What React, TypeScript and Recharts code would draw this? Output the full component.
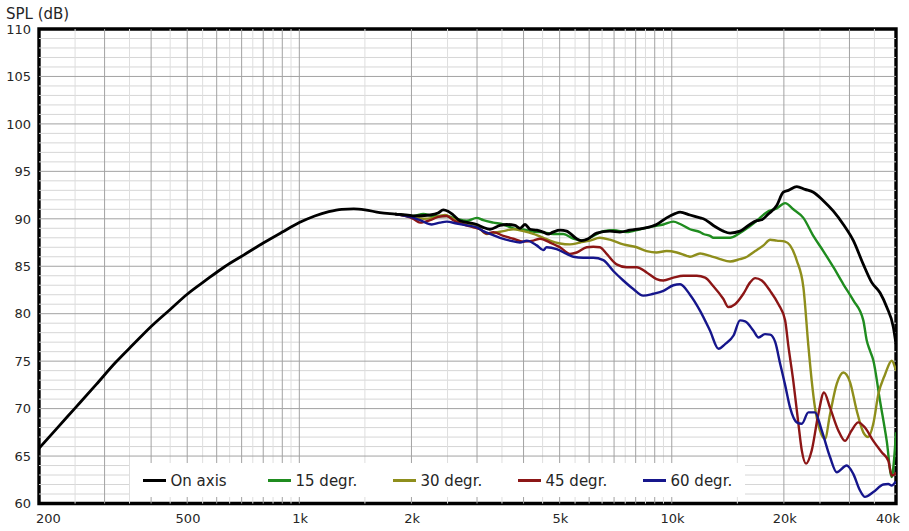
import React from 'react';
import { LineChart, Line, XAxis, YAxis, ReferenceLine, ReferenceArea, Legend, Label } from 'recharts';

type Pt = [number, number];

// Frequency (Hz), SPL (dB)
const onAxis: Pt[] = [
  [200, 65.8], [225, 68.05], [250, 70.05], [285, 72.55], [320, 74.8], [360, 76.85], [400, 78.65],
  [450, 80.45], [500, 82.05], [560, 83.5], [630, 84.95], [710, 86.2], [800, 87.45], [900, 88.6],
  [1000, 89.6], [1100, 90.3], [1200, 90.75], [1300, 91.0], [1400, 91.05], [1500, 90.95], [1645, 90.65],
  [1810, 90.5], [1982, 90.35], [2024, 90.3], [2244, 90.4], [2358, 90.6], [2435, 90.95], [2507, 90.8],
  [2591, 90.4], [2700, 89.8], [2837, 89.6], [2995, 89.4], [3114, 89.1], [3250, 88.9], [3458, 89.3],
  [3604, 89.4], [3793, 89.3], [3913, 89.0], [4037, 89.4], [4163, 88.9], [4339, 88.8], [4518, 88.6],
  [4660, 88.4], [4798, 88.6], [5010, 88.8], [5222, 88.7], [5555, 87.9], [5728, 87.7], [5969, 87.9],
  [6285, 88.5], [6822, 88.7], [7256, 88.6], [7719, 88.8], [8379, 89.0], [9103, 89.4], [9683, 90.1],
  [10205, 90.55], [10530, 90.7], [11192, 90.4], [11915, 90.1], [12160, 90.0], [12934, 89.3],
  [13760, 88.7], [14340, 88.5], [15250, 88.7], [16055, 89.3], [16910, 89.8], [17440, 89.9],
  [18165, 90.5], [19135, 91.4], [19930, 92.8], [20560, 93.0], [21660, 93.4], [22790, 93.1],
  [23995, 92.8], [25520, 91.9], [27160, 90.8], [28890, 89.4], [30730, 87.7], [32680, 85.2],
  [34420, 83.3], [36240, 82.2], [37770, 80.7], [39340, 78.6], [40000, 76.8],
];

const deg15: Pt[] = [
  [1810, 90.5], [2024, 90.3], [2152, 90.5], [2289, 90.3], [2487, 90.3], [2645, 90.0], [2815, 89.8],
  [2995, 90.1], [3119, 89.85], [3317, 89.6], [3529, 89.4], [3755, 89.0], [4078, 88.8], [4339, 88.6],
  [4428, 88.6], [4808, 88.4], [5113, 88.4], [5440, 87.9], [5787, 87.7], [6155, 88.2], [6548, 88.7],
  [6967, 88.8], [7569, 88.6], [8218, 88.9], [8924, 89.2], [9497, 89.4], [10100, 89.7], [10530, 89.45],
  [11192, 88.9], [11915, 88.6], [12160, 88.4], [12670, 88.2], [12934, 88.0], [13760, 88.0],
  [14340, 88.0], [15100, 88.4], [16055, 89.1], [16910, 89.8], [17995, 90.7], [19135, 91.1],
  [20150, 91.65], [21200, 91.0], [22560, 90.1], [23995, 88.2], [25520, 86.6], [27160, 84.9],
  [28890, 83.1], [30730, 81.4], [32680, 79.3], [33370, 77.2], [34060, 76.1], [34760, 75.1],
  [36240, 70.8], [37770, 66.6], [38960, 62.8], [39500, 64.5], [40000, 67.5],
];

const deg30: Pt[] = [
  [1810, 90.5], [2024, 90.2], [2152, 90.0], [2289, 90.1], [2461, 90.4], [2591, 90.0], [2756, 89.6],
  [2933, 89.4], [3057, 88.9], [3187, 88.4], [3317, 88.5], [3529, 88.7], [3755, 88.9], [3995, 88.7],
  [4250, 88.4], [4518, 88.0], [4710, 87.7], [5010, 87.4], [5330, 87.3], [5670, 87.5], [6032, 87.7],
  [6412, 88.0], [6822, 87.8], [7410, 87.3], [8050, 87.0], [8562, 86.6], [9103, 86.45], [9683, 86.6],
  [10320, 86.45], [10970, 86.1], [11192, 86.0], [11915, 86.35], [12670, 86.1], [13480, 85.75],
  [14340, 85.5], [15250, 85.75], [15740, 85.9], [16750, 86.6], [17630, 87.2], [18370, 87.8],
  [19135, 87.7], [20150, 87.6], [20780, 87.2], [21660, 85.6], [22560, 82.8], [23270, 76.6],
  [23760, 72.9], [24240, 70.1], [25000, 67.7], [25780, 66.8], [26600, 69.4], [27730, 72.6],
  [28890, 73.8], [30100, 72.8], [31370, 69.8], [32680, 67.5], [33700, 67.0], [34760, 68.4],
  [35860, 71.5], [37380, 73.6], [38960, 75.05], [39760, 74.35], [40000, 74.0],
];

const deg45: Pt[] = [
  [1810, 90.5], [2024, 90.0], [2110, 89.6], [2244, 89.85], [2361, 90.2], [2487, 90.3], [2591, 89.85],
  [2756, 89.4], [2933, 89.1], [3057, 88.9], [3187, 88.45], [3317, 88.6], [3529, 88.2], [3755, 87.9],
  [3995, 87.6], [4250, 87.7], [4428, 87.9], [4710, 87.5], [5010, 87.0], [5330, 86.3], [5555, 86.45],
  [5910, 87.0], [6155, 87.05], [6412, 87.0], [6685, 86.3], [7110, 85.2], [7569, 84.9], [8050, 84.9],
  [8562, 84.35], [9103, 83.65], [9497, 83.5], [10100, 83.8], [10745, 84.0], [11192, 84.0],
  [11670, 84.0], [12290, 83.8], [12934, 82.9], [13760, 81.55], [14190, 80.7], [14790, 81.0],
  [15570, 82.1], [16230, 83.3], [16750, 83.75], [17440, 83.5], [18370, 82.4], [19340, 81.0],
  [20150, 79.3], [20560, 76.6], [21200, 72.9], [21880, 68.4], [22340, 65.6], [22940, 64.2],
  [23760, 65.6], [24740, 69.4], [25630, 71.7], [26600, 70.1], [28000, 67.7], [29170, 66.6],
  [30400, 67.7], [31680, 68.55], [33010, 68.0], [34760, 66.6], [36620, 65.4], [38140, 64.5],
  [38960, 62.95], [39760, 63.1], [40000, 63.3],
];

const deg60: Pt[] = [
  [1810, 90.5], [1982, 90.2], [2110, 89.85], [2267, 89.4], [2386, 89.6], [2487, 89.7], [2645, 89.5],
  [2815, 89.3], [2995, 89.1], [3119, 88.7], [3250, 88.4], [3458, 88.0], [3678, 87.7], [3913, 87.5],
  [4078, 87.7], [4339, 87.2], [4518, 86.7], [4614, 87.0], [4908, 86.8], [5222, 86.3], [5440, 86.0],
  [5787, 85.9], [6155, 85.9], [6548, 85.65], [6967, 84.5], [7410, 83.5], [7883, 82.6], [8379, 81.9],
  [8924, 82.1], [9497, 82.4], [10100, 83.0], [10530, 83.1], [11192, 82.0], [11915, 80.3],
  [12670, 78.2], [13350, 76.3], [13910, 76.8], [14650, 77.7], [15250, 79.3], [15740, 79.2],
  [16570, 78.2], [17100, 77.5], [17810, 77.85], [18370, 77.8], [18960, 77.0], [19550, 74.7],
  [20150, 72.5], [20780, 70.1], [21660, 68.55], [22340, 68.4], [23270, 69.6], [24240, 69.6],
  [25270, 67.7], [26600, 64.9], [27730, 63.3], [29490, 64.0], [30730, 63.1], [32000, 61.4],
  [33010, 60.7], [34760, 61.2], [36990, 62.0], [38140, 62.05], [38960, 61.9], [39760, 62.2],
  [40000, 62.3],
];

const xTicks = [200, 500, 1000, 2000, 5000, 10000, 20000, 40000];
const xTickLabels = ['200', '500', '1k', '2k', '5k', '10k', '20k', '40k'];
const yTicks = [60, 65, 70, 75, 80, 85, 90, 95, 100, 105, 110];

const gridMajorX = [300, 400, 500, 600, 700, 800, 900, 1000, 2000, 3000, 4000, 5000, 6000, 7000, 8000, 9000, 10000, 20000, 30000];
const gridMinorX = [250, 350, 450, 550, 650, 750, 850, 950, 1500, 2500, 3500, 4500, 5500, 6500, 7500, 8500, 9500, 15000, 25000, 35000];
const gridMajorY = [65, 70, 75, 80, 85, 90, 95, 100, 105];
const gridMinorY = [
  61, 62, 63, 64, 66, 67, 68, 69, 71, 72, 73, 74, 76, 77, 78, 79, 81, 82, 83, 84,
  86, 87, 88, 89, 91, 92, 93, 94, 96, 97, 98, 99, 101, 102, 103, 104, 106, 107, 108, 109,
];

const seriesList = [
  { name: '15 degr.', color: '#1f8c1f', pts: deg15 },
  { name: '30 degr.', color: '#8e8e1c', pts: deg30 },
  { name: '45 degr.', color: '#8c1616', pts: deg45 },
  { name: '60 degr.', color: '#16168c', pts: deg60 },
  { name: 'On axis', color: '#000000', pts: onAxis },
];
const legendOrder = ['On axis', '15 degr.', '30 degr.', '45 degr.', '60 degr.'];

const FONT = '"DejaVu Sans", Verdana, sans-serif';
const TEXT = '#262626';

const toRows = (pts: Pt[]) => pts.map(([f, spl]) => ({ f, spl }));

const XTick = (props: any) => {
  const { x, y, payload } = props;
  const i = xTicks.indexOf(payload.value);
  const last = xTicks.length - 1;
  const anchor = i === 0 ? 'start' : i === last ? 'end' : 'middle';
  const dx = i === 0 ? -3 : i === last ? 4 : 0.8;
  return (
    <text x={x + dx} y={y + 19.5} textAnchor={anchor} fontFamily={FONT} fontSize={13} fill={TEXT}>
      {xTickLabels[i]}
    </text>
  );
};

const YTick = (props: any) => {
  const { x, y, payload } = props;
  return (
    <text x={x - 8} y={y + 4.7} textAnchor="end" fontFamily={FONT} fontSize={13} fill={TEXT}>
      {payload.value}
    </text>
  );
};

const LegendBox = (props: any) => {
  const items = [...(props.payload || [])].sort(
    (a: any, b: any) => legendOrder.indexOf(a.value) - legendOrder.indexOf(b.value)
  );
  return (
    <svg width={615} height={34} style={{ display: 'block', background: '#ffffff' }}>
      {items.map((it: any, i: number) => (
        <g key={it.value} transform={`translate(${13 + i * 125},0)`}>
          <line x1={0} x2={23} y1={17.5} y2={17.5} stroke={it.color} strokeWidth={3} />
          <text x={27.5} y={22.7} fontFamily={FONT} fontSize={15} fill={TEXT}>
            {it.value}
          </text>
        </g>
      ))}
    </svg>
  );
};

export default function App() {
  return (
    <div style={{ position: 'absolute', left: 0, top: 0, width: 909, height: 531, background: '#fff' }}>
      <LineChart width={909} height={531} margin={{ top: 29, right: 13, bottom: 0, left: 0 }}>
        <XAxis
          dataKey="f"
          type="number"
          scale="log"
          domain={[200, 40000]}
          allowDataOverflow
          ticks={xTicks}
          interval={0}
          tick={<XTick />}
          tickLine={false}
          axisLine={false}
          tickSize={0}
          tickMargin={0}
          height={27.5}
        />
        <YAxis
          type="number"
          domain={[60, 110]}
          allowDataOverflow
          ticks={yTicks}
          interval={0}
          tick={<YTick />}
          tickLine={false}
          axisLine={false}
          tickSize={0}
          tickMargin={0}
          width={39}
        >
          <Label
            content={() => (
              <text x={6} y={19} fontFamily={FONT} fontSize={15} fill={TEXT}>
                SPL (dB)
              </text>
            )}
          />
        </YAxis>
        {gridMinorY.map((v) => (
          <ReferenceLine key={`hy${v}`} y={v} stroke="#d6d6d6" strokeWidth={1} />
        ))}
        {gridMinorX.map((v) => (
          <ReferenceLine key={`hx${v}`} x={v} stroke="#dedede" strokeWidth={1} />
        ))}
        {gridMajorY.map((v) => (
          <ReferenceLine key={`my${v}`} y={v} stroke="#a2a2a2" strokeWidth={1} />
        ))}
        {gridMajorX.map((v) => (
          <ReferenceLine key={`mx${v}`} x={v} stroke="#a2a2a2" strokeWidth={1} />
        ))}
        <Legend
          layout="vertical"
          align="center"
          verticalAlign="middle"
          content={<LegendBox />}
          wrapperStyle={{ position: 'absolute', left: 130, top: 463, width: 615, height: 34, margin: 0, padding: 0 }}
        />
        {seriesList.map((s) => (
          <Line
            key={s.name}
            name={s.name}
            data={toRows(s.pts)}
            dataKey="spl"
            type="monotone"
            stroke={s.color}
            strokeWidth={s.name === 'On axis' ? 2.8 : 2.4}
            dot={false}
            activeDot={false}
            isAnimationActive={false}
          />
        ))}
        <ReferenceArea x1={200} x2={40000} y1={60} y2={110} fill="none" stroke="#000" strokeWidth={3.4} />
      </LineChart>
    </div>
  );
}
